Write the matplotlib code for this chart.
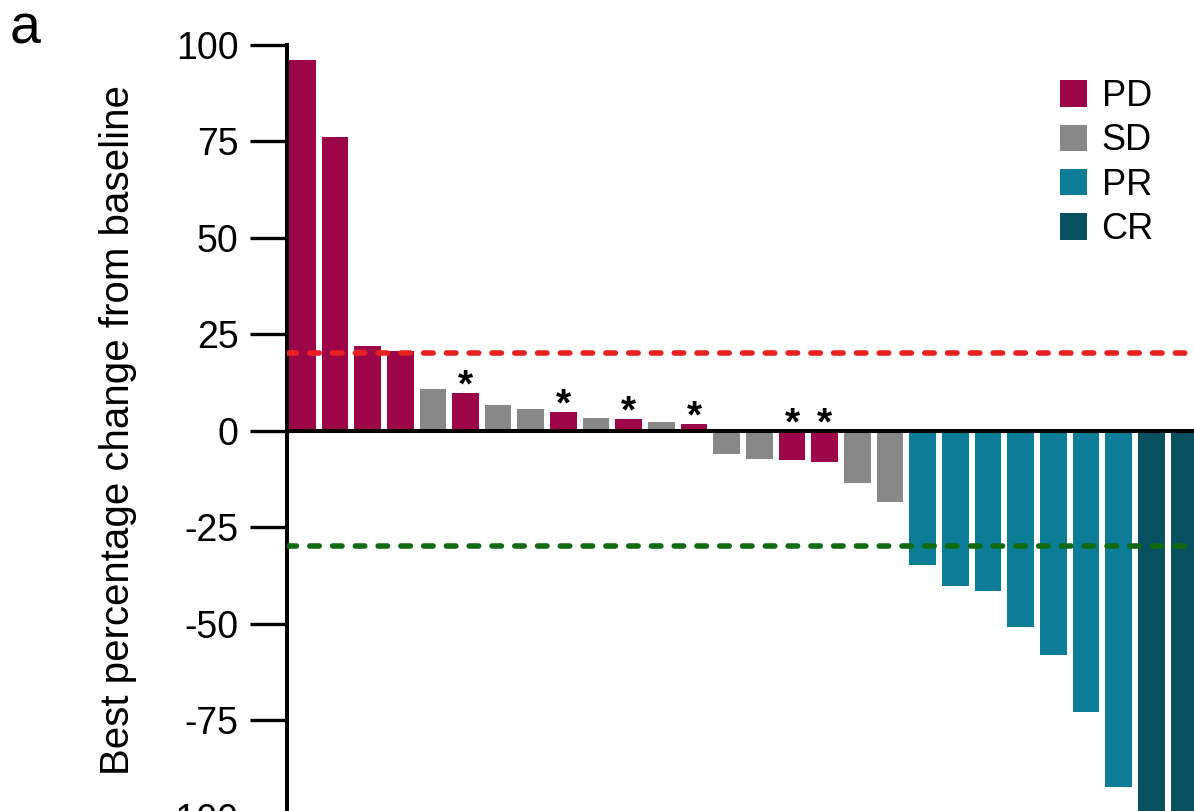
import matplotlib
matplotlib.use("Agg")
import matplotlib.pyplot as plt
from matplotlib.patches import Patch

# =========================
# DATA
# =========================

# best percentage change from baseline, one bar per patient (waterfall order)
values = [96, 76, 21.8, 20.5, 10.8, 9.8, 6.5, 5.5, 4.8, 3.2, 3.0, 2.2, 1.8,
          -6.0, -7.3, -7.7, -8.2, -13.7, -18.6,
          -34.9, -40.2, -41.5, -50.9, -58.1, -72.8, -92.4,
          -100, -100]

# best overall response for each bar
responses = ["PD", "PD", "PD", "PD", "SD", "PD", "SD", "SD", "PD", "SD", "PD", "SD", "PD",
             "SD", "SD", "PD", "PD", "SD", "SD",
             "PR", "PR", "PR", "PR", "PR", "PR", "PR",
             "CR", "CR"]

# bars marked with an asterisk
starred = [5, 8, 10, 12, 15, 16]

legend_labels = ["PD", "SD", "PR", "CR"]
yticks = [100, 75, 50, 25, 0, -25, -50, -75, -100]

# reference lines: +20% (progression) and -30% (response)
pd_threshold = 20
pr_threshold = -30

# =========================
# STYLE
# =========================
colors = {
    "PD": "#9c0649",
    "SD": "#888888",
    "PR": "#0b7d97",
    "CR": "#07505f",
}

plt.rcParams["font.family"] = ["Liberation Sans", "DejaVu Sans"]


def main():
    fig = plt.figure(figsize=(11.94, 8.11), dpi=100)
    ax = fig.add_axes([0.2404, -0.0068, 0.7596, 0.9519])

    xs = list(range(len(values)))
    bar_colors = [colors[r] for r in responses]
    ax.bar(xs, values, width=0.816, color=bar_colors, zorder=2)

    # threshold lines drawn on top of the bars (short round-capped dashes)
    ax.axhline(pd_threshold, color="#e8201f", lw=4.0, dashes=(1.7, 2.4),
               dash_capstyle="round", zorder=3)
    ax.axhline(pr_threshold, color="#0f6a12", lw=4.0, dashes=(1.7, 2.4),
               dash_capstyle="round", zorder=3)
    ax.axhline(0, color="black", lw=2.9, zorder=4)

    # asterisks above the marked bars (above the zero line for negative ones)
    for i in starred:
        ax.annotate("*", (xs[i], max(values[i], 0)), xytext=(0, -2.5),
                    textcoords="offset points", ha="center", va="baseline",
                    fontsize=28, fontweight="bold", zorder=5)

    ax.set_xlim(-0.465, 27.31)
    ax.set_ylim(-100, 100)
    ax.set_yticks(yticks)
    ax.set_yticklabels([str(t) for t in yticks])
    ax.set_xticks([])

    for side in ["top", "right", "bottom"]:
        ax.spines[side].set_visible(False)
    ax.spines["left"].set_linewidth(2.9)
    ax.tick_params(axis="y", length=26.5, width=2.4, pad=8.5, labelsize=27)

    ax.set_ylabel("Best percentage change from baseline", fontsize=29)
    ax.yaxis.set_label_coords(-0.165, 0.5)

    handles = [Patch(facecolor=colors[k], edgecolor="none") for k in legend_labels]
    ax.legend(handles, legend_labels, loc="upper left",
              bbox_to_anchor=(1060 / 1194, 1 - 79 / 811),
              bbox_transform=fig.transFigure, frameon=False, fontsize=26,
              handlelength=0.75, handleheight=0.75, handletextpad=0.4,
              labelspacing=0.26, borderpad=0, borderaxespad=0)

    fig.text(0.008, 1 - 44 / 811, "a", fontsize=40, va="baseline", ha="left")

    fig.savefig("out.png", dpi=100)


if __name__ == "__main__":
    main()
